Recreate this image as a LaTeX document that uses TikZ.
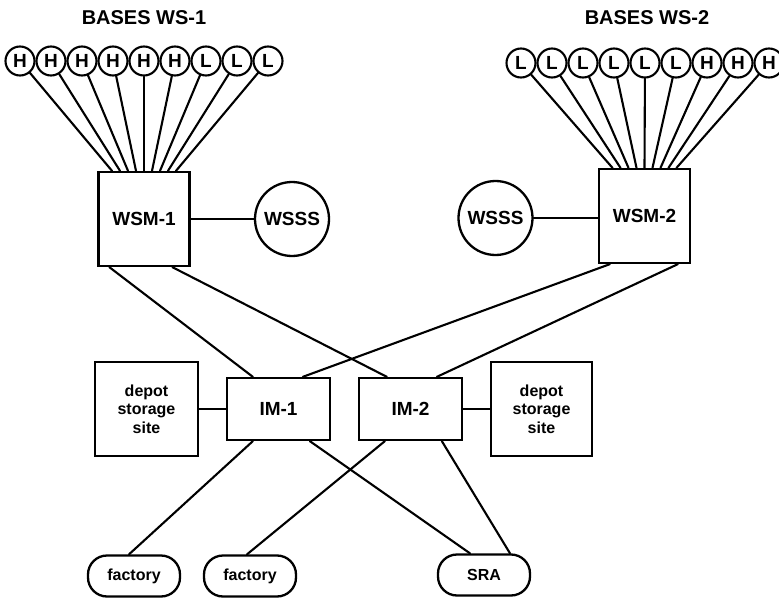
\documentclass[tikz,border=0pt]{standalone}
\usepackage{fontspec}
\setmainfont{Liberation Sans}
\usetikzlibrary{calc}
\begin{document}
\begin{tikzpicture}[x=1pt,y=-1pt,
  link/.style={line width=2.1pt, line cap=round},
  unit/.style={draw, line width=2.3pt, inner sep=0pt, align=center},
  base/.style={draw, circle, line width=2.1pt, minimum size=29pt, inner sep=0pt,
    font=\fontsize{19}{19}\bfseries},
  big/.style={font=\fontsize{19}{19}\bfseries},
  small/.style={font=\fontsize{16}{18.5}\bfseries},
  pill/.style={unit, rounded corners=19pt, minimum width=92pt, minimum height=41pt, small}
]
\useasboundingbox (0,0) rectangle (779,599);

% titles
\node[font=\fontsize{20}{20}\bfseries] (t1) at (144,18) {BASES WS-1};
\node[font=\fontsize{20}{20}\bfseries] (t2) at (647,18) {BASES WS-2};

% weapon system managers and their support sites
\node[unit, big, minimum width=91pt, minimum height=94pt] (wsm1) at (144,219) {WSM-1};
\node[unit, big, minimum width=91pt, minimum height=94pt] (wsm2) at (644.5,216) {WSM-2};
\node[unit, circle, big, minimum size=74pt] (wsss1) at (292,219) {WSSS};
\node[unit, circle, big, minimum size=74pt] (wsss2) at (495.5,218) {WSSS};
\draw[link] (wsm1.east) -- (wsm1.east -| wsss1.west);
\draw[link] (wsss2.east) -- (wsss2.east -| wsm2.west);

% bases
\foreach \i/\t in {1/H,2/H,3/H,4/H,5/H,6/H,7/L,8/L,9/L}
  \node[base] (a\i) at ({20+31*(\i-1)},61) {\t};
\foreach \i/\t in {1/L,2/L,3/L,4/L,5/L,6/L,7/H,8/H,9/H}
  \node[base] (b\i) at ({521+31*(\i-1)},63) {\t};
\foreach \i in {1,...,9} {
  \draw[link] (a\i) -- ($(wsm1.north)+({8*(\i-5)},0)$);
  \draw[link] (b\i) -- ($(wsm2.north)+({8*(\i-5)},0)$);
}

% item managers and depots
\node[unit, big, minimum width=103pt, minimum height=62pt] (im1) at (278.5,409) {IM-1};
\node[unit, big, minimum width=103pt, minimum height=62pt] (im2) at (410.5,409) {IM-2};
\node[unit, small, minimum width=103pt, minimum height=94pt] (dep1) at (146.5,409) {depot\\storage\\site};
\node[unit, small, minimum width=101pt, minimum height=94pt] (dep2) at (541.5,409) {depot\\storage\\site};
\draw[link] (dep1.east) -- (im1.west);
\draw[link] (im2.east) -- (dep2.west);

% sources
\node[pill] (fac1) at (134,576) {factory};
\node[pill] (fac2) at (250,576) {factory};
\node[pill] (sra) at (484,575) {SRA};

% managers to item managers
\draw[link] ($(wsm1.south west)+(12,0)$) -- ($(im1.north west)+(27,0)$);
\draw[link] ($(wsm1.south west)+(75,0)$) -- ($(im2.north west)+(29,0)$);
\draw[link] ($(wsm2.south west)+(12,0)$) -- ($(im1.north west)+(77,0)$);
\draw[link] ($(wsm2.south west)+(80,0)$) -- ($(im2.north west)+(79,0)$);

% item managers to sources
\draw[link] ($(im1.south west)+(27,0)$) -- ($(fac1.north)+(-5,0)$);
\draw[link] ($(im1.south west)+(84,0)$) -- ($(sra.north)+(-14,0)$);
\draw[link] ($(im2.south west)+(27,0)$) -- ($(fac2.north)+(-3,0)$);
\draw[link] ($(im2.south west)+(84,0)$) -- ($(sra.north)+(26,0)$);
\end{tikzpicture}
\end{document}
